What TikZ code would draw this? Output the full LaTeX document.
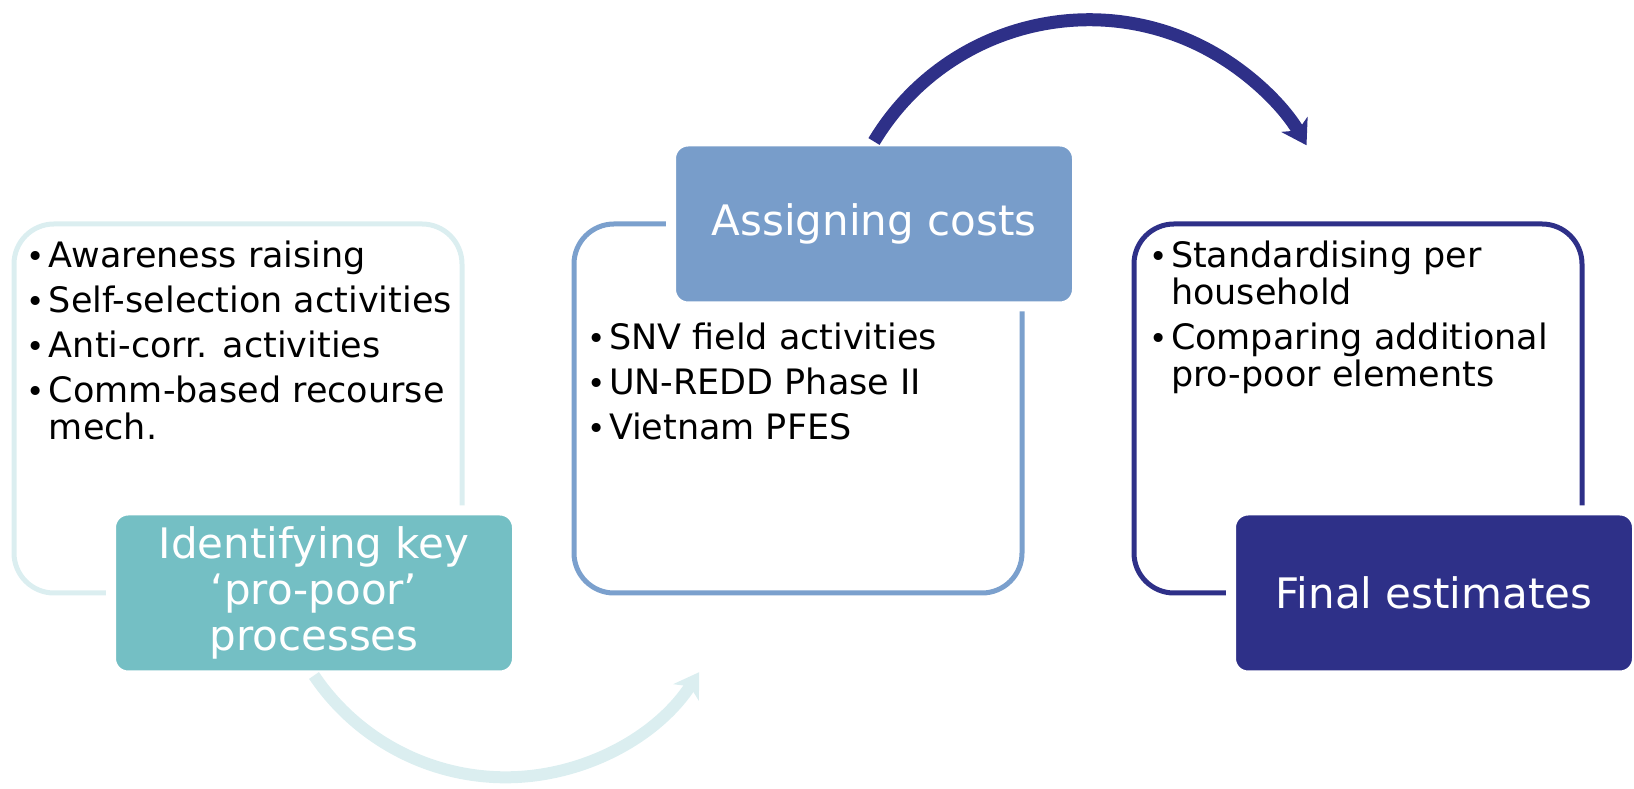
\documentclass[tikz,border=0pt]{standalone}
\usepackage{fontspec}
\setmainfont{DejaVu Sans}
\usepackage{tikz}
\usetikzlibrary{arrows.meta, positioning, calc}
\definecolor{PaleTeal}{RGB}{219,238,240}
\definecolor{MidTeal}{RGB}{116,191,196}
\definecolor{SteelBlue}{RGB}{120,157,202}
\definecolor{SteelLine}{RGB}{123,160,205}
\definecolor{DeepNavy}{RGB}{46,48,136}
\newcommand{\bul}{\makebox[22pt][l]{\fontsize{31}{31}\selectfont\raisebox{0pt}{•}}}

\begin{document}
\begin{tikzpicture}[x=1pt,y=1pt,
  framebox/.style={draw, line width=5pt, rounded corners=40pt, minimum width=448pt, minimum height=369pt, inner sep=0pt, outer sep=0pt},
  headbox/.style={draw=white, line width=10pt, rounded corners=17pt, minimum width=406pt, minimum height=165pt, inner sep=0pt, outer sep=0pt, text=white, align=center, font=\fontsize{42}{46}\selectfont},
  itembox/.style={align=left, inner sep=0pt, outer sep=0pt, font=\fontsize{35}{37}\selectfont},
  node distance=112pt]
\useasboundingbox (0,0) rectangle (1634,789);
\node[framebox, draw=PaleTeal] (F1) at (238,380.5) {};
\node[framebox, draw=SteelLine, right=of F1] (F2) {};
\node[framebox, draw=DeepNavy, right=of F2] (F3) {};
\node[headbox, fill=MidTeal] (T1) at ([xshift=-148pt]F1.south east) {Identifying key\\‘pro-poor’\\processes};
\node[headbox, fill=SteelBlue] (T2) at ([xshift=-148pt]F2.north east) {Assigning costs};
\node[headbox, fill=DeepNavy] (T3) at ([xshift=-148pt]F3.south east) {Final estimates};
\node[itembox, below right=17pt and 13pt of F1.north west] (L1) {\bul Awareness raising\\[8pt]
  \bul Self-selection activities\\[8pt]
  \bul Anti-corr. activities\\[8pt]
  \bul Comm-based recourse\\
  \hspace*{22pt}mech.};
\node[itembox, below right=99pt and 13pt of F2.north west] (L2) {\bul SNV field activities\\[8pt]
  \bul UN-REDD Phase II\\[8pt]
  \bul Vietnam PFES};
\node[itembox, below right=17pt and 15pt of F3.north west] (L3) {\bul Standardising per\\
  \hspace*{22pt}household\\[8pt]
  \bul Comparing additional\\
  \hspace*{22pt}pro-poor elements};
\draw[PaleTeal, line width=12pt, -{Stealth[length=24pt, width=30pt, inset=7pt]}] (T1.south) arc[start angle=214, end angle=327, radius=231];
\draw[DeepNavy, line width=13pt, -{Stealth[length=24pt, width=30pt, inset=7pt]}] (T2.north) arc[start angle=149, end angle=30, radius=251];
\end{tikzpicture}
\end{document}
